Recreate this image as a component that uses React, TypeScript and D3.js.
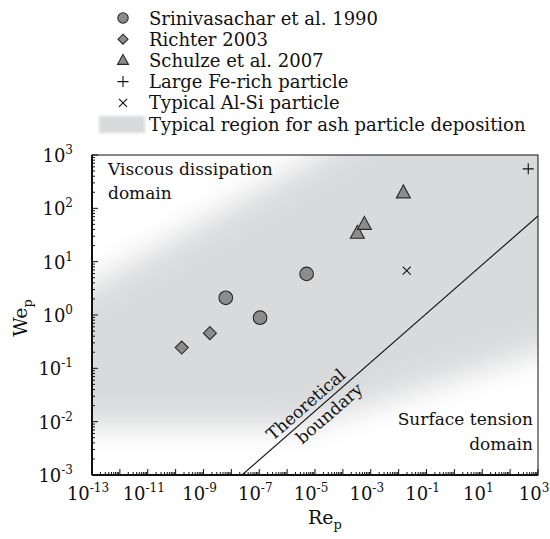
import * as d3 from "d3"

const W = 550
const H = 539
const margin = { left: 92, right: 12, top: 155, bottom: 64 }
const FONT = "DejaVu Serif"

// Srinivasachar et al. 1990
const srinRe = [6.3e-9, 1.07e-7, 5.0e-6]
const srinWe = [2.1, 0.89, 5.9]
// Richter 2003
const richRe = [1.66e-10, 1.7e-9]
const richWe = [0.245, 0.457]
// Schulze et al. 2007
const schRe = [3.3e-4, 5.9e-4, 1.48e-2]
const schWe = [34, 50, 195]
// Large Fe-rich particle
const feRe = [447]
const feWe = [550]
// Typical Al-Si particle
const alRe = [1.95e-2]
const alWe = [6.8]
// theoretical boundary end points
const boundRe = [2.4e-8, 1e3]
const boundWe = [1e-3, 72]
// typical deposition region outline (Re, We)
const regionRe = [1e-15, 1e-14, 3.2e-5, 1e-2, 1e5, 1e5, 1e3, 3.2e-6, 1e-15]
const regionWe = [0.8, 1.8, 1260, 8000, 1e5, 0.6, 0.2, 8e-3, 8e-3]

const xTicks = d3.range(-13, 4, 2)
const yTicks = d3.range(-3, 4, 1)

const legendItems = [
  { key: "circle", label: "Srinivasachar et al. 1990" },
  { key: "diamond", label: "Richter 2003" },
  { key: "triangle", label: "Schulze et al. 2007" },
  { key: "plus", label: "Large Fe-rich particle" },
  { key: "cross", label: "Typical Al-Si particle" },
  { key: "region", label: "Typical region for ash particle deposition" },
]

const markFill = "#8c8c8c"
const markStroke = "#2a2a2a"

const Marker = ({ kind, x, y }: { kind: string; x: number; y: number }) => {
  if (kind === "circle")
    return <circle cx={x} cy={y} r={6.8} fill={markFill} stroke={markStroke} strokeWidth={1.1} />
  if (kind === "diamond")
    return (
      <path
        d={`M${x},${y - 6.5}L${x + 6.5},${y}L${x},${y + 6.5}L${x - 6.5},${y}Z`}
        fill={markFill}
        stroke={markStroke}
        strokeWidth={1.1}
      />
    )
  if (kind === "triangle")
    return (
      <path
        d={`M${x},${y - 8}L${x + 7},${y + 5}L${x - 7},${y + 5}Z`}
        fill={markFill}
        stroke={markStroke}
        strokeWidth={1.1}
      />
    )
  if (kind === "plus")
    return <path d={`M${x - 5.5},${y}H${x + 5.5}M${x},${y - 5.5}V${y + 5.5}`} stroke="#111" strokeWidth={1.1} />
  return <path d={`M${x - 4},${y - 4}L${x + 4},${y + 4}M${x - 4},${y + 4}L${x + 4},${y - 4}`} stroke="#111" strokeWidth={1.1} />
}

const App = () => {
  const x = d3.scaleLog().domain([1e-13, 1e3]).range([margin.left, W - margin.right])
  const y = d3.scaleLog().domain([1e-3, 1e3]).range([H - margin.bottom, margin.top])
  const [x0, x1] = x.range()
  const [y0, y1] = y.range()

  const regionPath =
    d3.line()(regionRe.map((r, i) => [x(r), y(regionWe[i])] as [number, number])) + "Z"

  const bx0 = x(boundRe[0]), by0 = y(boundWe[0])
  const bx1 = x(boundRe[1]), by1 = y(boundWe[1])
  const angle = (Math.atan2(by1 - by0, bx1 - bx0) * 180) / Math.PI
  const tAt = (t: number) => [bx0 + (bx1 - bx0) * t, by0 + (by1 - by0) * t]
  const [tx, ty] = tAt(0.24)
  const [ux, uy] = tAt(0.27)

  const minorX: number[] = []
  for (let e = -13; e < 3; e++) for (let k = 2; k < 10; k++) minorX.push(k * Math.pow(10, e))
  const minorY: number[] = []
  for (let e = -3; e < 3; e++) for (let k = 2; k < 10; k++) minorY.push(k * Math.pow(10, e))
  const majorX = d3.range(-13, 4).map((e) => Math.pow(10, e))
  const majorY = d3.range(-3, 4).map((e) => Math.pow(10, e))

  const series = [
    { kind: "circle", re: srinRe, we: srinWe },
    { kind: "diamond", re: richRe, we: richWe },
    { kind: "triangle", re: schRe, we: schWe },
    { kind: "plus", re: feRe, we: feWe },
    { kind: "cross", re: alRe, we: alWe },
  ]

  return (
    <svg
      width={W}
      height={H}
      style={{ position: "absolute", left: 0, top: 0, background: "#fff", fontFamily: FONT }}
    >
      <defs>
        <clipPath id="plotClip">
          <rect x={x0} y={y1} width={x1 - x0} height={y0 - y1} />
        </clipPath>
        <filter id="soft" filterUnits="userSpaceOnUse" x={-200} y={-200} width={1000} height={1000}>
          <feGaussianBlur stdDeviation={15} />
        </filter>
        <filter id="softSmall" x="-30%" y="-60%" width="160%" height="220%">
          <feGaussianBlur stdDeviation={1.5} />
        </filter>
      </defs>

      {/* legend */}
      <g fontSize={18} fill="#111">
        {legendItems.map((d, i) => {
          const cy = 18 + i * 21.2
          return (
            <g key={d.key}>
              {d.key === "region" ? (
                <rect x={99} y={cy - 8} width={46} height={17} fill="#d9dadc" filter="url(#softSmall)" />
              ) : d.key === "circle" ? (
                <circle cx={123} cy={cy} r={5.2} fill={markFill} stroke={markStroke} strokeWidth={1.1} />
              ) : d.key === "diamond" ? (
                <path d={`M123,${cy - 5}L128,${cy}L123,${cy + 5}L118,${cy}Z`} fill={markFill} stroke={markStroke} strokeWidth={1.1} />
              ) : d.key === "triangle" ? (
                <path d={`M123,${cy - 6}L128.5,${cy + 4}L117.5,${cy + 4}Z`} fill={markFill} stroke={markStroke} strokeWidth={1.1} />
              ) : (
                <Marker kind={d.key} x={123} y={cy} />
              )}
              <text x={149} y={cy + 6.5}>
                {d.label}
              </text>
            </g>
          )
        })}
      </g>

      {/* shaded region */}
      <g clipPath="url(#plotClip)">
        <path d={regionPath} fill="#d9dadc" filter="url(#soft)" />
        <line x1={bx0} y1={by0} x2={bx1} y2={by1} stroke="#111" strokeWidth={1.1} />
      </g>

      {/* boundary labels */}
      <g fontSize={17} fill="#111" textAnchor="middle">
        <text transform={`translate(${tx},${ty}) rotate(${angle})`} dy={-5}>
          Theoretical
        </text>
        <text transform={`translate(${ux},${uy}) rotate(${angle})`} dy={17}>
          boundary
        </text>
      </g>

      {/* domain labels */}
      <g fontSize={17} fill="#111">
        <text x={x0 + 16} y={y1 + 20}>Viscous dissipation</text>
        <text x={x0 + 16} y={y1 + 44}>domain</text>
        <text x={x1 - 5} y={y0 - 50} textAnchor="end">Surface tension</text>
        <text x={x1 - 5} y={y0 - 25} textAnchor="end">domain</text>
      </g>

      {/* data */}
      {series.map((s) =>
        s.re.map((r, i) => <Marker key={s.kind + i} kind={s.kind} x={x(r)} y={y(s.we[i])} />)
      )}

      {/* axes ticks */}
      <g stroke="#111" strokeWidth={1}>
        {minorX.map((v, i) => (
          <line key={"mx" + i} x1={x(v)} x2={x(v)} y1={y0} y2={y0 - 3} />
        ))}
        {majorX.map((v, i) => (
          <line key={"Mx" + i} x1={x(v)} x2={x(v)} y1={y0} y2={y0 - 6} />
        ))}
        {minorY.map((v, i) => (
          <line key={"my" + i} x1={x0} x2={x0 + 3} y1={y(v)} y2={y(v)} />
        ))}
        {majorY.map((v, i) => (
          <line key={"My" + i} x1={x0} x2={x0 + 6} y1={y(v)} y2={y(v)} />
        ))}
      </g>
      <rect x={x0} y={y1} width={x1 - x0} height={y0 - y1} fill="none" stroke="#111" strokeWidth={1} />
      <line x1={x0} x2={x1} y1={y0} y2={y0} stroke="#111" strokeWidth={2} />
      <line x1={x0} x2={x0} y1={y0} y2={y1} stroke="#111" strokeWidth={2} />

      {/* tick labels */}
      <g fontSize={18} fill="#111">
        {xTicks.map((e) => (
          <text key={"xl" + e} x={x(Math.pow(10, e)) - 4} y={y0 + 25} textAnchor="middle">
            10<tspan fontSize={12} dy={-8}>{e}</tspan>
          </text>
        ))}
        {yTicks.map((e) => (
          <text key={"yl" + e} x={x0 - 19} y={y(Math.pow(10, e)) + 7} textAnchor="end">
            10<tspan fontSize={12} dy={-8}>{e}</tspan>
          </text>
        ))}
      </g>

      {/* axis titles */}
      <g fontSize={19} fill="#111">
        <text x={(x0 + x1) / 2 + 10} y={y0 + 49} textAnchor="middle">
          Re<tspan fontSize={13} dy={5}>p</tspan>
        </text>
        <text transform={`translate(27,${(y0 + y1) / 2 + 3}) rotate(-90)`} textAnchor="middle">
          We<tspan fontSize={13} dy={5}>p</tspan>
        </text>
      </g>
    </svg>
  )
}

export default App
